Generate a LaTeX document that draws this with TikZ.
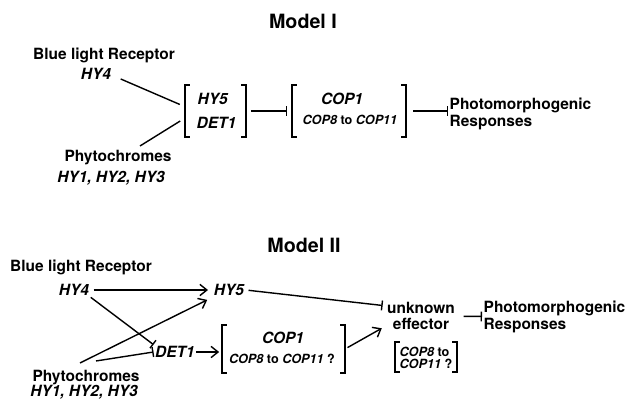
\documentclass[tikz,border=0pt]{standalone}
\usepackage{fontspec}
\setmainfont{TeX Gyre Heros}
\usepackage{tikz}
\usetikzlibrary{arrows.meta,calc,positioning}
\tikzset{
	lbl/.style={font=\fontsize{11}{11.5}\selectfont\bfseries,inner sep=1pt},
	gene/.style={font=\fontsize{11}{11.5}\selectfont\bfseries\itshape,inner sep=1pt},
	small/.style={font=\fontsize{9}{9}\selectfont\bfseries\itshape,inner sep=1pt},
	ttl/.style={font=\fontsize{14}{16}\selectfont\bfseries},
	grp/.style={inner sep=0pt,outer sep=0pt},
	brk/.style={line width=1pt},
	ln/.style={line width=1pt},
	act/.style={line width=1pt,-{Straight Barb[length=5pt,width=8pt]}},
	inh/.style={line width=1pt,-{Bar[width=7pt]}},
}
\begin{document}
\begin{tikzpicture}[x=0.025cm,y=-0.025cm]
	\useasboundingbox (0,0) rectangle (632,405);
	% Model I
	\node[ttl] (titleI) at (303,21) {Model I};
	\node[lbl] (blueI) at (104,55) {Blue light Receptor};
	\node[gene] (hy4I) at (96,74) {HY4};
	\node[lbl] (phyI) at (118,158) {Phytochromes};
	\node[gene] (hyI) at (111,178) {HY1, HY2, HY3};
	\node[grp,minimum width=1.525cm,minimum height=1.3cm] (grpI) at (215.5,111) {};
	\node[gene,anchor=west] (hy5I) at (196,99) {HY5};
	\node[gene,anchor=west] (det1I) at (195,123) {DET1};
	\node[grp,minimum width=2.85cm,minimum height=1.3cm] (copI) at (349,111) {};
	\node[gene] (cop1I) at (342,99) {COP1};
	\node[small] (cop8I) at (350,120) {COP8 \upshape to \itshape COP11};
	\node[lbl,align=left,anchor=west] (resI) at (448,114) {Photomorphogenic\\Responses};
	\draw[ln,shorten >=4pt] ([shift={(8,5)}]hy4I.east) -- (grpI.172);
	\draw[ln,shorten >=4pt] ([shift={(22,-3)}]phyI.north) -- (grpI.193);
	\draw[inh,shorten <=3.5pt,shorten >=3.5pt] (grpI) -- (copI);
	\draw[inh,shorten <=5pt] (copI.east) -- (copI.east -| resI.west);
	% Model II
	\node[ttl] (titleII) at (304,245) {Model II};
	\node[lbl] (blueII) at (81,267) {Blue light Receptor};
	\node[gene] (hy4II) at (74,290) {HY4};
	\node[gene] (hy5II) at (229,290) {HY5};
	\node[gene] (det1II) at (175,352) {DET1};
	\node[lbl] (phyII) at (86,378) {Phytochromes};
	\node[gene] (hyII) at (84,392) {HY1, HY2, HY3};
	\node[grp,minimum width=3.075cm,minimum height=1.2cm] (copII) at (283.5,349) {};
	\node[gene] (cop1II) at (283,338) {COP1};
	\node[small] (cop8II) at (282,359) {COP8 \upshape to \itshape COP11 \upshape ?};
	\node[lbl,align=center] (effII) at (421,316) {unknown\\effector};
	\node[grp,minimum width=1.55cm,minimum height=0.75cm] (grpII) at (426,357) {};
	\node[small,align=left,anchor=west] (cop8bII) at (398,358) {COP8 \upshape to\\\itshape COP11 \upshape ?};
	\node[lbl,align=left,anchor=west] (resII) at (482,317) {Photomorphogenic\\Responses};
	\draw[act,shorten <=2pt,shorten >=3pt] (hy4II) -- (hy5II);
	\draw[inh,shorten <=2pt,shorten >=2pt] (hy5II.east) -- (effII.164);
	\draw[inh] (hy4II.south east) -- (det1II.north west);
	\draw[act,shorten >=4pt] ([shift={(-6,-6)}]phyII.north) -- (hy5II.south west);
	\draw[inh] ([shift={(10,-8)}]phyII.north) -- (det1II.west);
	\draw[act,shorten >=2pt] (det1II.east) -- (det1II.east -| copII.west);
	\draw[act,shorten <=2pt,shorten >=3pt] (copII.east) -- (effII.196);
	\draw[inh,shorten <=5pt] (effII) -- (resII);
	% brackets
	\foreach \g in {grpI,copI,copII,grpII}
	\draw[brk] ([xshift=3.5pt]\g.north west) -- (\g.north west) -- (\g.south west) -- ([xshift=3.5pt]\g.south west)
		([xshift=-3.5pt]\g.north east) -- (\g.north east) -- (\g.south east) -- ([xshift=-3.5pt]\g.south east);
\end{tikzpicture}
\end{document}
